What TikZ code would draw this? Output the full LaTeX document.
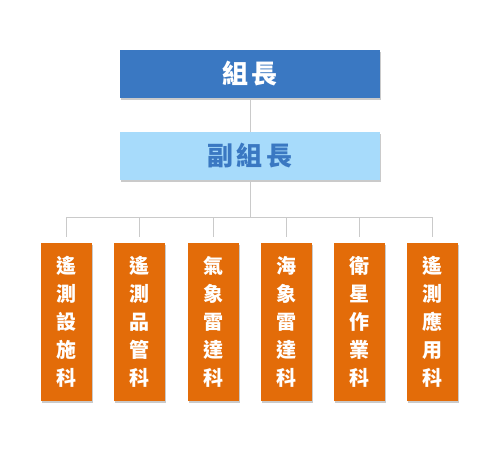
\documentclass[tikz,border=0pt]{standalone}
\usepackage{fontspec}
\newfontfamily\cjk{Noto Sans CJK TC}
\usetikzlibrary{shadows}
\definecolor{headblue}{HTML}{3A78C2}
\definecolor{deplight}{HTML}{A7DBFB}
\definecolor{depText}{HTML}{3A78C2}
\definecolor{unitorange}{HTML}{E36C09}
\definecolor{linkgray}{HTML}{CACACA}
\begin{document}
\begin{tikzpicture}[x=1pt,y=-1pt,
  shad/.style={drop shadow={shadow xshift=1pt,shadow yshift=-2pt,opacity=0.35,fill=black!60}},
  headbox/.style={shad,fill=headblue,text=white,minimum width=260pt,minimum height=48pt,inner sep=0pt,
    font=\cjk\bfseries\fontsize{26}{30}\selectfont},
  depbox/.style={shad,fill=deplight,text=depText,minimum width=260pt,minimum height=48pt,inner sep=0pt,
    font=\cjk\bfseries\fontsize{26}{30}\selectfont},
  unitbox/.style={shad,fill=unitorange,text=white,minimum width=51pt,minimum height=158pt,inner sep=0pt,
    align=center,font=\cjk\bfseries\fontsize{20}{28}\selectfont},
  link/.style={draw=linkgray,line width=1pt}]
\useasboundingbox (0,0) rectangle (500,450);
\node[headbox] (head) at (250,74) {組\hspace{4pt}長};
\node[depbox] (dep) at (250,156) {副\hspace{4pt}組\hspace{4pt}長};
\node[unitbox] (u1) at (66.5,322) {遙\\測\\設\\施\\科};
\node[unitbox] (u2) at (139.7,322) {遙\\測\\品\\管\\科};
\node[unitbox] (u3) at (213.2,322) {氣\\象\\雷\\達\\科};
\node[unitbox] (u4) at (286.5,322) {海\\象\\雷\\達\\科};
\node[unitbox] (u5) at (359.6,322) {衛\\星\\作\\業\\科};
\node[unitbox] (u6) at (432.6,322) {遙\\測\\應\\用\\科};
\coordinate (bus) at (250,217);
\draw[link] (head) -- (dep);
\draw[link] (dep.south) -- (bus);
\foreach \u in {u1,u2,u3,u4,u5,u6}
  \draw[link,shorten >=6pt] (bus) -| (\u.north);
\end{tikzpicture}
\end{document}
